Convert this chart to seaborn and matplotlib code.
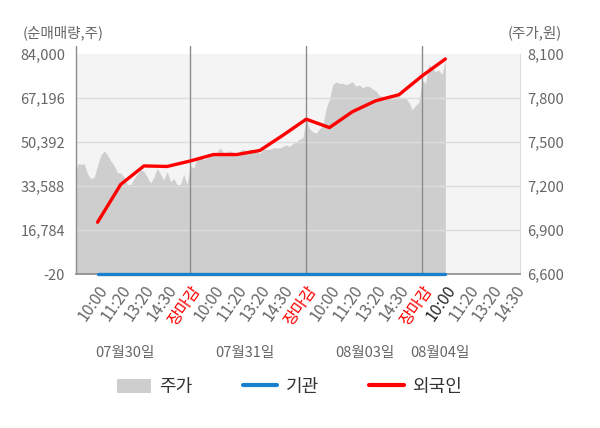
import numpy as np
import pandas as pd
import seaborn as sns
import matplotlib
matplotlib.use("Agg")
import matplotlib.pyplot as plt
import matplotlib.transforms as mtransforms
from matplotlib.patches import Patch
from matplotlib.lines import Line2D

DATES = ["07월30일", "07월31일", "08월03일", "08월04일"]
TIME_LABELS = ["10:00", "11:20", "13:20", "14:30", "장마감",
               "10:00", "11:20", "13:20", "14:30", "장마감",
               "10:00", "11:20", "13:20", "14:30", "장마감",
               "10:00", "11:20", "13:20", "14:30"]

# intraday price (won), one list per trading day
PRICE_0730 = [7250, 7350, 7350, 7350, 7280, 7250, 7260, 7340, 7410, 7440,
              7410, 7370, 7340, 7290, 7290, 7260, 7210, 7210, 7250, 7280,
              7310, 7300, 7260, 7220, 7260, 7320, 7280, 7240, 7300, 7230,
              7250, 7210, 7210, 7280, 7210]
PRICE_0731 = [7340, 7320, 7390, 7400, 7380, 7390, 7400, 7420, 7430, 7460,
              7430, 7430, 7440, 7430, 7410, 7440, 7450, 7440, 7450, 7450,
              7440, 7420, 7450, 7450, 7450, 7460, 7460, 7460, 7470, 7480,
              7470, 7490, 7500, 7520, 7530]
PRICE_0803 = [7660, 7590, 7570, 7560, 7590, 7610, 7730, 7790, 7890, 7910,
              7900, 7900, 7890, 7900, 7910, 7880, 7890, 7870, 7880, 7880,
              7860, 7850, 7820, 7810, 7810, 7810, 7810, 7810, 7810, 7800,
              7800, 7770, 7720, 7750, 7770]
PRICE_0804 = [7920, 7900, 8030, 8000, 7980, 7990, 7960, 8060]

# net buying (shares) at each time label
FOREIGN = [19750, 34200, 41250, 41050, 43150, 45600, 45600, 47150,
           53000, 59100, 55900, 62000, 66150, 68450, 75650, 82100]
INSTITUTION = [0, 0, 0, 0, 0, 0, 0, 0, 0, 0, 0, 0, 0, 0, 0, 0]

LEFT_TICKS = [-20, 16784, 33588, 50392, 67196, 84000]
RIGHT_TICKS = [6600, 6900, 7200, 7500, 7800, 8100]

GRAY_TXT = "#666666"
AREA = "#cecece"
BLUE = "#1a7fcc"
RED = "#ff0000"

sns.set_style("white")
plt.rcParams["font.family"] = ["Noto Sans CJK KR", "DejaVu Sans"]

fig = plt.figure(figsize=(6, 4.28), dpi=100)
ax = fig.add_axes([76 / 600, 1 - 274 / 428, 444 / 600, 220 / 428])
ax2 = ax.twinx()
ax.set_zorder(2)
ax.patch.set_visible(False)
ax2.set_zorder(1)
ax2.patch.set_visible(True)
ax2.patch.set_facecolor("#f4f4f4")

# price area on right axis
step = 5 / 35
days = [PRICE_0730, PRICE_0731, PRICE_0803, PRICE_0804]
px, py = [], []
for d, prices in enumerate(days):
    px.extend(5 * d + np.arange(len(prices)) * step)
    py.extend(prices)
price_df = pd.DataFrame({"x": px, "price": py})
ax2.fill_between(price_df["x"], price_df["price"], RIGHT_TICKS[0],
                 color=AREA, linewidth=0)

# net buying lines on left axis
pos = np.arange(1, len(FOREIGN) + 1)
lines = pd.DataFrame({"x": pos, "기관": INSTITUTION, "외국인": FOREIGN})
long = lines.melt(id_vars="x", var_name="who", value_name="qty")
sns.lineplot(data=long, x="x", y="qty", hue="who",
             palette={"기관": BLUE, "외국인": RED}, linewidth=2.4,
             legend=False, ax=ax, zorder=5)
for ln in ax.get_lines():
    ln.set_clip_on(False)

xmin, xmax = 0.07, 19.22
ax.set_xlim(xmin, xmax)
ax.set_ylim(LEFT_TICKS[0], LEFT_TICKS[-1])
ax2.set_ylim(RIGHT_TICKS[0], RIGHT_TICKS[-1])

# grid
for v in LEFT_TICKS[1:-1]:
    ax.axhline(v, color="#dddddd", linewidth=1, zorder=1)
for xv in [5, 10, 15]:
    ax.axvline(xv, ymin=0, ymax=1.035, color="#8c8c8c", linewidth=1,
               clip_on=False, zorder=2)
ax.axvline(xmin, ymin=0, ymax=1.035, color="#8c8c8c", linewidth=1,
           clip_on=False, zorder=2)

for s in ["top", "left", "right"]:
    ax.spines[s].set_visible(False)
    ax2.spines[s].set_visible(False)
ax2.spines["right"].set_visible(True)
ax2.spines["right"].set_color("#dddddd")
ax2.spines["bottom"].set_visible(False)
ax.spines["bottom"].set_color("#8c8c8c")
ax.spines["bottom"].set_linewidth(1.2)
ax.spines["bottom"].set_zorder(1)

# y ticks
ax.set_yticks(LEFT_TICKS, [f"{v:,}" for v in LEFT_TICKS])
ax2.set_yticks(RIGHT_TICKS, [f"{v:,}" for v in RIGHT_TICKS])
ax.tick_params(axis="y", length=0, pad=8, labelsize=10.5, labelcolor=GRAY_TXT)
ax2.tick_params(axis="y", length=0, pad=5, labelsize=10.5, labelcolor=GRAY_TXT)
ax.set_ylabel("")
ax2.set_ylabel("")
ax.set_xlabel("")

# x ticks
tick_pos = np.arange(1, len(TIME_LABELS) + 1)
ax.set_xticks(tick_pos, TIME_LABELS, rotation=55, ha="right",
              rotation_mode="anchor")
ax.set_xticks([xmin, 5, 10, 15, xmax], minor=True)
ax.tick_params(axis="x", which="major", length=0, pad=6, labelsize=11.5)
ax.tick_params(axis="x", which="minor", length=4, color="#8c8c8c", width=1)
for i, lab in enumerate(ax.get_xticklabels()):
    if TIME_LABELS[i] == "장마감":
        lab.set_color(RED)
    elif i == 15:
        lab.set_color("#222222")
    else:
        lab.set_color(GRAY_TXT)

# axis titles
fig.text(23 / 600, 1 - 33 / 428, "(순매매량,주)", ha="left", va="center",
         fontsize=10.5, color=GRAY_TXT)
fig.text(562 / 600, 1 - 33 / 428, "(주가,원)", ha="right", va="center",
         fontsize=10.5, color=GRAY_TXT)

# date labels under the ticks
trans = mtransforms.blended_transform_factory(ax.transData, fig.transFigure)
for xd, lab in zip([2.2, 7.37, 12.54, 15.78], DATES):
    ax.text(xd, 1 - 353 / 428, lab, transform=trans, ha="center",
            va="center", fontsize=10.5, color=GRAY_TXT)

handles = [Patch(facecolor=AREA, edgecolor="none"),
           Line2D([0], [0], color=BLUE, linewidth=3),
           Line2D([0], [0], color=RED, linewidth=3)]
fig.legend(handles, ["주가", "기관", "외국인"], ncol=3, loc="center",
           bbox_to_anchor=(0.482, 1 - 387 / 428), frameon=False,
           fontsize=13, handlelength=1.9, handleheight=0.8,
           handletextpad=0.45, columnspacing=2.8, labelcolor="#333333")

fig.savefig("out.png", dpi=100)
